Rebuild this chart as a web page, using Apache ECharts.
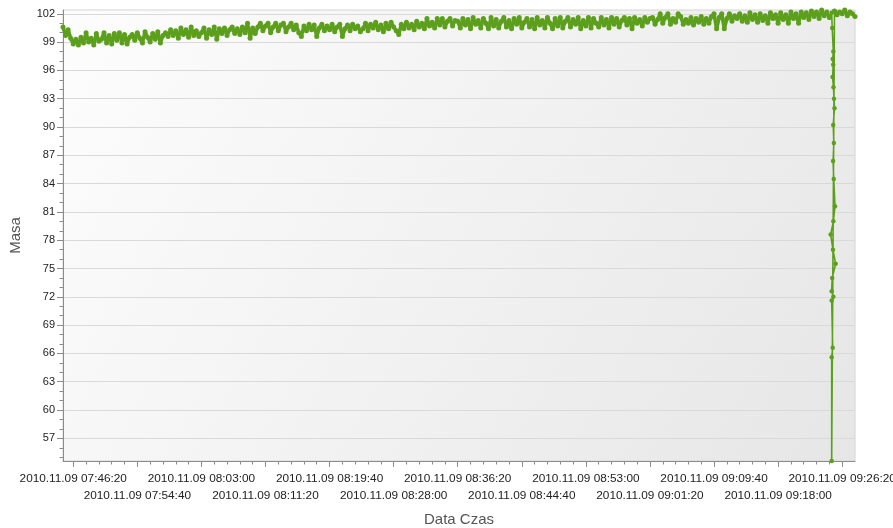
<!DOCTYPE html>
<html><head><meta charset="utf-8">
<script src="https://cdn.jsdelivr.net/npm/echarts@6/dist/echarts.min.js"></script>
<style>html,body{margin:0;padding:0;background:#fff}#c{width:893px;height:528px}</style>
</head><body><div id="c"></div>
<script>
// ---- data ----
const dateLabel = '2010.11.09';
const xTickLabels = ['07:46:20','07:54:40','08:03:00','08:11:20','08:19:40','08:28:00','08:36:20','08:44:40','08:53:00','09:01:20','09:09:40','09:18:00','09:26:20'];
const yTickLabels = [57,60,63,66,69,72,75,78,81,84,87,90,93,96,99,102];
const xMin = '07:45:00', xMax = '09:28:00';
const yMin = 54.6, yMax = 102.4;

// regular logger samples before the drop (every 20 s from sampleStart)
const sampleStart = '07:45:00';
const sampleStep = 20;
const masaA = [
 100.6, 99.7, 100.3,
 99.4, 98.8, 99.3, 98.7, 99.5, 98.9, 100.0, 99.0, 99.4, 98.7, 99.9, 99.1,
 99.3, 100.0, 98.9, 99.7, 98.8, 99.9, 99.2, 100.0, 98.9, 99.8, 98.8, 99.5,
 99.8, 99.2, 100.0, 99.4, 98.9, 100.1, 99.5, 99.0, 99.9, 99.3, 100.1, 98.9, 99.7, 100.0,
 99.6, 100.3, 99.7, 100.2, 99.4, 100.5, 99.8, 100.3, 99.5, 100.6, 99.7, 100.2, 99.6,
 100.0, 100.5, 99.4, 100.3, 99.8, 100.6, 99.3, 100.4, 99.9, 100.5, 99.7, 100.3, 100.6, 99.9, 100.4, 99.8, 100.6, 100.0, 101.0, 99.4, 100.5, 99.9, 100.6,
 101.0, 100.2, 100.7, 101.0, 100.0, 100.6, 101.0, 100.2, 100.8, 101.0, 100.1, 100.6, 101.0, 100.3, 100.8, 100.0,
 99.6, 100.7, 100.2, 100.9, 100.3, 100.8, 99.6, 100.5, 100.9, 100.2, 100.7, 100.3, 100.9, 100.1, 100.6, 100.9, 99.6, 100.4, 100.8, 100.2, 100.9, 100.4, 100.7, 100.1,
 100.4, 101.0, 100.2, 100.9, 100.5, 101.1, 100.3, 100.8, 100.1, 101.0, 100.4, 101.1, 100.6, 100.2, 99.8, 100.9, 100.4, 101.1, 100.5, 100.9, 100.3, 101.2, 100.6, 101.0, 100.4, 101.5, 100.7, 101.1, 100.5, 101.5, 100.8, 101.5, 100.6, 101.2, 101.5, 100.7, 101.3,
 101.2, 100.5, 101.5, 100.8, 101.4, 100.4, 101.6, 100.9, 101.3, 100.5, 101.5, 101.0, 100.4, 101.6, 100.7, 101.4, 100.5, 101.2, 101.6, 100.6,
 101.3, 100.4, 101.5, 100.9, 101.6, 100.5, 101.1, 101.5, 100.6, 101.4, 100.4, 101.6, 100.8, 101.3, 100.5, 101.6, 101.0, 100.4, 101.5, 100.7,
 101.6, 100.5, 101.2, 101.6, 100.6, 101.4, 100.9, 101.6, 100.4, 101.3, 100.7, 101.6, 100.5, 101.5, 101.0, 100.6, 101.6, 100.8, 101.4, 100.5,
 101.6, 100.9, 101.5, 100.6, 101.3, 101.6, 100.8, 101.5, 100.4, 101.6, 101.0, 101.4, 100.7, 101.6, 101.1, 101.5,
 101.6, 100.9, 101.4, 102.0, 101.0, 101.6, 102.0, 100.9, 101.5, 101.1, 102.0, 101.7, 100.9, 101.4, 101.0, 101.6, 100.8, 101.5, 101.1, 101.7,
 100.9, 101.5, 101.0, 101.7, 102.0, 100.4, 101.6, 102.0, 100.4, 101.5, 102.0, 101.2, 101.8,
 101.5, 102.0, 101.2, 101.8, 101.1, 102.1, 101.4, 101.9, 101.1, 102.0, 101.3, 101.8, 101.0, 102.1, 101.5, 101.9, 101.0, 102.1, 101.4, 101.9,
 101.0, 102.2, 101.5, 102.0, 101.0, 102.2, 101.6, 102.1, 101.4, 102.3, 101.7, 102.2, 101.5, 102.4, 101.8, 102.2, 101.6
];

// the unloading drop
const dropTimes  = ['09:24:58','09:25:02','09:25:11','09:25:06','09:25:10','09:25:05','09:25:12','09:25:16','09:25:20','09:25:10','09:25:15','09:25:09','09:25:14','09:25:24','09:25:11','09:24:50','09:25:08','09:25:29','09:25:02','09:24:58','09:25:11','09:24:58','09:25:06','09:24:58','09:24:58'];
const dropValues = [102.1, 100.5, 98.0, 97.2, 96.6, 95.3, 94.2, 93.0, 92.0, 90.2, 88.3, 86.4, 84.5, 81.6, 80.0, 78.6, 77.0, 75.5, 74.0, 72.6, 72.0, 71.6, 66.6, 65.6, 54.6];

// samples after the drop
const resumeStart = '09:25:20';
const masaB = [102.3, 101.9, 102.2, 102.0, 102.4, 101.8, 102.2, 102.0, 101.7];

// ---- build ----
function toSec(s){const p=s.split(':').map(Number);return p[0]*3600+p[1]*60+p[2];}
function pad(n){return (n<10?'0':'')+n;}
function fmt(v){v=Math.round(v);return dateLabel+' '+pad(Math.floor(v/3600))+':'+pad(Math.floor(v%3600/60))+':'+pad(v%60);}

const bandA = masaA.map((v,i)=>[toSec(sampleStart)+i*sampleStep, v]);
const bandB = masaB.map((v,i)=>[toSec(resumeStart)+i*sampleStep, v]);
const dropPts = dropTimes.map((t,i)=>[toSec(t), dropValues[i]]);
const dropLine = [bandA[bandA.length-1]].concat(dropPts, [bandB[0]]);

const majorX = xTickLabels.map(toSec);
const row1X = majorX.filter((v,i)=>i%2===0);
const row2X = majorX.filter((v,i)=>i%2===1);
const minorX = [];
for (let k=0;k<majorX.length-1;k++){for(let j=1;j<5;j++){minorX.push(majorX[k]+j*100);}}
const minorY = [];
for (let v=55; v<=102; v++){ if (yTickLabels.indexOf(v)<0) minorY.push(v); }

const FONT = 'Liberation Sans';
const axisColor = '#8c8c8c';
const GREEN = '#5c9f1c';
const lblStyle = {fontSize:11.8,color:'#222',fontFamily:FONT,formatter:(v)=>fmt(v),hideOverlap:false,showMinLabel:true,showMaxLabel:true};
const chart = echarts.init(document.getElementById('c'), null, {renderer:'canvas'});
const bandSeries = (d)=>({type:'line',xAxisIndex:0,yAxisIndex:0,data:d,symbol:'circle',symbolSize:5,showSymbol:true,
    lineStyle:{color:GREEN,width:3.6},itemStyle:{color:GREEN}});
chart.setOption({
  animation:false,
  grid:{left:63,right:38,top:10,bottom:67,show:true,borderColor:'#d4d4d4',borderWidth:1,
    outerBoundsMode:'none',containLabel:false,
    backgroundColor:new echarts.graphic.LinearGradient(0,0,1,1,[{offset:0,color:'#fdfdfd'},{offset:1,color:'#e6e6e6'}])},
  xAxis:[{
    type:'value',position:'bottom',min:toSec(xMin),max:toSec(xMax),
    name:'Data Czas',nameLocation:'middle',nameGap:51,
    nameTextStyle:{fontSize:15,color:'#555',fontFamily:FONT},
    axisLine:{show:true,lineStyle:{color:axisColor}},
    axisTick:{show:true,customValues:majorX,length:6,lineStyle:{color:axisColor}},
    axisLabel:Object.assign({customValues:row1X,margin:12},lblStyle),
    splitLine:{show:false}
  },{
    type:'value',position:'bottom',min:toSec(xMin),max:toSec(xMax),
    axisLine:{show:false},
    axisTick:{show:true,customValues:minorX,length:3.5,lineStyle:{color:axisColor}},
    axisLabel:{show:false},splitLine:{show:false}
  },{
    type:'value',position:'bottom',min:toSec(xMin),max:toSec(xMax),
    axisLine:{show:false},
    axisTick:{show:false,customValues:row2X},
    axisLabel:Object.assign({customValues:row2X,margin:29},lblStyle),
    splitLine:{show:false}
  }],
  yAxis:[{
    type:'value',position:'left',min:yMin,max:yMax,
    name:'Masa',nameLocation:'middle',nameGap:40,
    nameTextStyle:{fontSize:15,color:'#555',fontFamily:FONT},
    axisLine:{show:true,lineStyle:{color:axisColor}},
    axisTick:{show:true,customValues:yTickLabels,length:6,lineStyle:{color:axisColor}},
    axisLabel:{customValues:yTickLabels,margin:8,fontSize:11,color:'#222',fontFamily:FONT},
    splitLine:{show:true,lineStyle:{color:'#d9d9d9'}}
  },{
    type:'value',position:'left',min:yMin,max:yMax,
    axisLine:{show:false},
    axisTick:{show:true,customValues:minorY,length:3.5,lineStyle:{color:axisColor}},
    axisLabel:{show:false},splitLine:{show:false}
  }],
  series:[
    bandSeries(bandA),
    {type:'line',xAxisIndex:0,yAxisIndex:0,data:dropLine,symbol:'circle',symbolSize:4.5,showSymbol:true,
      lineStyle:{color:GREEN,width:1.6},itemStyle:{color:GREEN}},
    bandSeries(bandB)
  ]
});
</script></body></html>
